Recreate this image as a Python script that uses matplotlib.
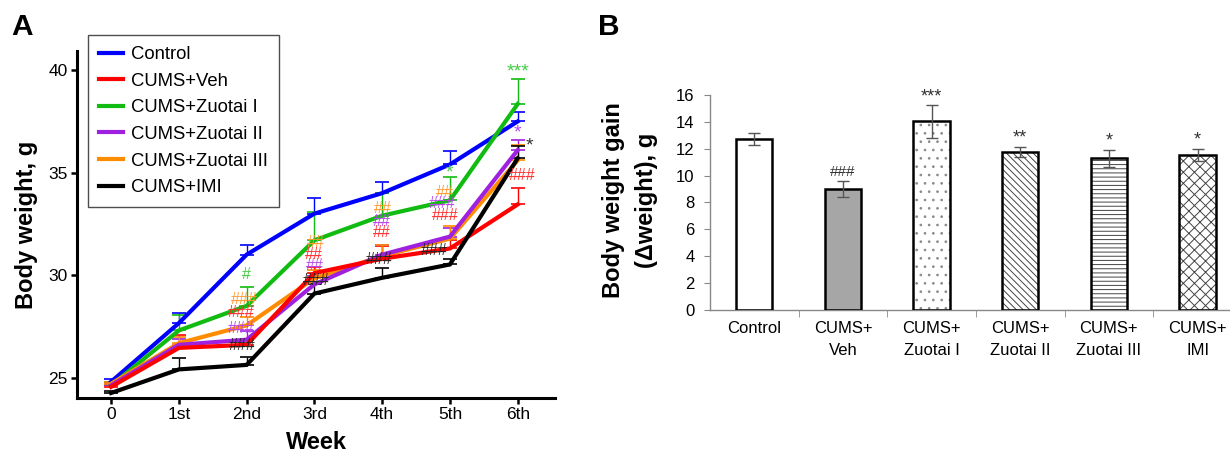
import matplotlib
matplotlib.use('Agg')
import matplotlib.pyplot as plt
import numpy as np

plt.rcParams['font.family'] = ['Liberation Sans', 'DejaVu Sans']
plt.rcParams['hatch.linewidth'] = 0.7

# ---- panel A data (body weight, g) ----
weeks = ['0', '1st', '2nd', '3rd', '4th', '5th', '6th']
groups = ['Control', 'CUMS+Veh', 'CUMS+Zuotai I', 'CUMS+Zuotai II',
          'CUMS+Zuotai III', 'CUMS+IMI']
control = [24.8, 27.66, 31.0, 33.0, 34.0, 35.4, 37.5]
control_err = [0.15, 0.5, 0.47, 0.74, 0.53, 0.64, 0.47]
veh = [24.55, 26.45, 26.6, 30.1, 30.8, 31.3, 33.45]
veh_err = [0.1, 0.65, 0.3, 0.3, 0.6, 0.4, 0.8]
zuotai1 = [24.62, 27.3, 28.5, 31.7, 32.9, 33.65, 38.35]
zuotai1_err = [0.15, 0.75, 0.93, 1.4, 1.1, 1.15, 1.2]
zuotai2 = [24.62, 26.6, 26.85, 29.55, 31.0, 31.88, 36.1]
zuotai2_err = [0.1, 0.3, 0.4, 0.4, 0.45, 0.42, 0.48]
zuotai3 = [24.7, 26.68, 27.55, 29.85, 30.93, 31.78, 35.6]
zuotai3_err = [0.1, 0.3, 0.4, 0.4, 0.55, 0.62, 0.76]
imi = [24.25, 25.4, 25.62, 29.1, 29.87, 30.52, 35.7]
imi_err = [0.1, 0.58, 0.38, 0.45, 0.46, 0.28, 0.6]

# significance marks: (week, level, text, colour)
sig_a = [
    (2.0, 30.05, '#', '#44cc44'),
    (1.96, 28.79, '###', '#ff9a30'),
    (1.92, 28.17, '###', '#ff3030'),
    (1.92, 27.40, '###', '#bb44ee'),
    (1.93, 26.57, '###', '#222222'),
    (3.02, 31.60, '##', '#ff9a30'),
    (2.99, 31.03, '##', '#ff3030'),
    (3.0, 30.49, '##', '#bb44ee'),
    (3.02, 29.72, '###', '#222222'),
    (4.01, 33.24, '##', '#ff9a30'),
    (4.0, 32.63, '##', '#bb44ee'),
    (4.0, 32.06, '##', '#ff3030'),
    (3.96, 30.78, '###', '#222222'),
    (4.93, 34.05, '##', '#ff9a30'),
    (4.88, 33.48, '###', '#bb44ee'),
    (4.93, 32.90, '###', '#ff3030'),
    (4.77, 31.19, '###', '#222222'),
    (6.06, 34.84, '###', '#ff3030'),
]
star_a = [
    (5.0, 35.0, '*', '#44cc44'),
    (6.0, 39.9, '***', '#44cc44'),
    (6.0, 36.95, '*', '#bb44ee'),
    (6.17, 36.28, '*', '#333333'),
]

# ---- panel B data (body weight gain, g) ----
bar_labels = ['Control', 'CUMS+\nVeh', 'CUMS+\nZuotai I', 'CUMS+\nZuotai II',
              'CUMS+\nZuotai III', 'CUMS+\nIMI']
gain = [12.75, 9.02, 14.03, 11.78, 11.28, 11.55]
gain_err = [0.45, 0.6, 1.2, 0.37, 0.65, 0.45]
gain_sig = ['', '###', '***', '**', '*', '*']

fig = plt.figure(figsize=(12.3, 4.53), dpi=100)

# ================= panel A =================
ax = fig.add_axes([0.0628, 0.1221, 0.3884, 0.766])
x = np.arange(len(weeks))
series = [
    (control, control_err, '#0000ff', 2),
    (veh, veh_err, '#ff0000', 6),
    (zuotai1, zuotai1_err, '#11bb11', 3),
    (zuotai2, zuotai2_err, '#a020e0', 5),
    (zuotai3, zuotai3_err, '#ff8c00', 4),
    (imi, imi_err, '#000000', 7),
]
handles = []
for (vals, err, col, z), name in zip(series, groups):
    ax.errorbar(x, vals, yerr=[np.zeros(len(err)), err], fmt='none',
                ecolor=col, elinewidth=1, capsize=5, capthick=1.2, zorder=1)
    h, = ax.plot(x, vals, color=col, lw=3, solid_joinstyle='miter',
                 zorder=z, label=name)
    handles.append(h)

for wx, wy, txt, col in sig_a:
    ax.text(wx, wy, txt, color=col, fontsize=11.5, ha='center', va='center',
            zorder=9)
for wx, wy, txt, col in star_a:
    ax.text(wx, wy, txt, color=col, fontsize=14, ha='center', va='center',
            zorder=9)

ax.set_xlim(-0.5, 6.55)
ax.set_ylim(24.02, 40.95)
ax.set_xticks(x, weeks)
ax.set_yticks([25, 30, 35, 40])
for s in ['top', 'right']:
    ax.spines[s].set_visible(False)
for s in ['left', 'bottom']:
    ax.spines[s].set_linewidth(2.2)
ax.tick_params(width=1.8, length=4, labelsize=12.5, pad=3)

leg = ax.legend(handles=handles, loc='upper left',
                bbox_to_anchor=(87.7 / 1230, 1 - 35 / 453),
                bbox_transform=fig.transFigure, borderaxespad=0,
                fontsize=13.3, frameon=True, fancybox=False, edgecolor='#222222',
                handlelength=1.3, handletextpad=0.45, labelspacing=0.52,
                borderpad=0.6)
leg.get_frame().set_linewidth(1.0)
for lh in leg.get_lines():
    lh.set_linewidth(3)

fig.text(27 / 1230, 1 - 225 / 453, 'Body weight, g', rotation=90,
         ha='center', va='center', fontsize=17, fontweight='bold')
fig.text(316 / 1230, 1 - 449 / 453, 'Week', ha='center', va='baseline',
         fontsize=17, fontweight='bold')
fig.text(11 / 1230, 1 - 35 / 453, 'A', fontsize=21.5, fontweight='bold',
         va='baseline')

# ================= panel B =================
axb = fig.add_axes([0.5772, 0.3157, 0.4325, 0.4746])
xb = np.arange(len(bar_labels))
fills = ['white', '#a6a6a6', 'white', 'white', 'white', 'white']
hatches = ['', '', '..', '\\\\\\\\\\', '----', 'xxx']
hatch_cols = ['#555555', '#555555', '#8a8a8a', '#444444', '#444444', '#444444']
for xi, g, fc, hp, hc in zip(xb, gain, fills, hatches, hatch_cols):
    axb.bar(xi, g, 0.41, color=fc, hatch=hp, edgecolor=hc, linewidth=0,
            zorder=2)
axb.bar(xb, gain, 0.41, fill=False, edgecolor='black', linewidth=1.8,
        zorder=3)
axb.errorbar(xb, gain, yerr=gain_err, fmt='none', ecolor='#555555',
             elinewidth=1, capsize=4, capthick=1, zorder=4)
for xi, g, e, s in zip(xb, gain, gain_err, gain_sig):
    if s:
        axb.text(xi, g + e + 0.62, s, ha='center', va='center',
                 fontsize=13 if '*' in s else 11, color='#333333')

axb.set_xlim(-0.5, 5.5)
axb.set_ylim(0, 16)
axb.set_yticks(np.arange(0, 17, 2))
axb.set_xticks(xb, bar_labels)
axb.set_xticks(np.arange(0.5, 5.6, 1), minor=True)
axb.tick_params(axis='x', which='major', length=0, pad=8, labelsize=12)
axb.tick_params(axis='x', which='minor', length=5, color='#888888')
axb.tick_params(axis='y', length=4, color='#888888', labelsize=12, pad=7)
for lab in axb.get_xticklabels():
    lab.set_linespacing(1.55)
for s in ['top', 'right']:
    axb.spines[s].set_visible(False)
for s in ['left', 'bottom']:
    axb.spines[s].set_color('#888888')
    axb.spines[s].set_linewidth(1)

fig.text(630 / 1230, 1 - 200 / 453, 'Body weight gain\n(\u0394weight), g',
         rotation=90, ha='center', va='center', multialignment='center',
         fontsize=17, fontweight='bold', linespacing=1.6)
fig.text(598 / 1230, 1 - 35 / 453, 'B', fontsize=21.5, fontweight='bold',
         va='baseline')

fig.savefig('out.png', dpi=100)
